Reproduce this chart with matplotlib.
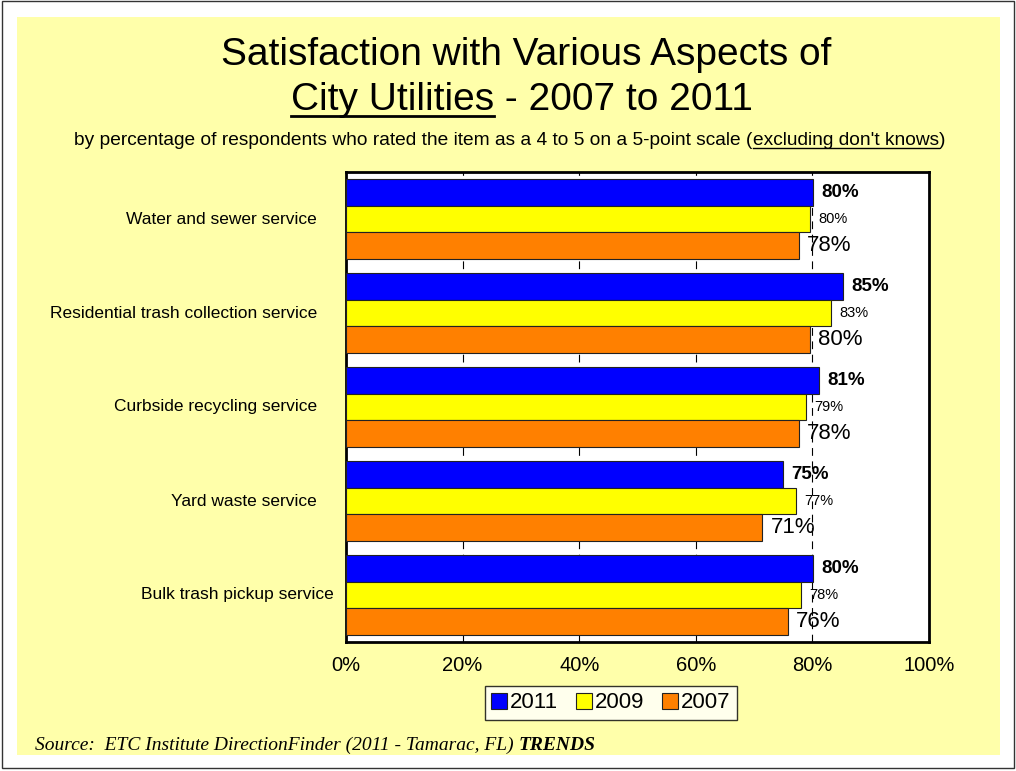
import numpy as np
import matplotlib
matplotlib.use('Agg')
import matplotlib.pyplot as plt
from matplotlib.patches import Rectangle

# data
categories = ['Water and sewer service',
              'Residential trash collection service',
              'Curbside recycling service',
              'Yard waste service',
              'Bulk trash pickup service']
years = ['2011', '2009', '2007']
vals_2011 = [80.1, 85.2, 81.1, 75.0, 80.1]
vals_2009 = [79.6, 83.2, 78.9, 77.2, 78.0]
vals_2007 = [77.7, 79.6, 77.7, 71.4, 75.8]
x_ticks = [0, 20, 40, 60, 80, 100]

colors = ['#0000FF', '#FFFF00', '#FF8000']
SANS = ['Liberation Sans', 'DejaVu Sans']
SERIF = ['Liberation Serif', 'DejaVu Serif']

W, H = 1016, 771
fig = plt.figure(figsize=(W / 100, H / 100), dpi=100)
fig.patch.set_facecolor('white')

# slide background and frame
fig.add_artist(Rectangle((17 / W, 1 - 755 / H), (1000 - 17) / W, (755 - 17) / H,
                         transform=fig.transFigure, facecolor='#FFFFAA',
                         edgecolor='none', zorder=0))
fig.add_artist(Rectangle((2 / W, 1 - 768 / H), (1014 - 2) / W, (768 - 1) / H,
                         transform=fig.transFigure, facecolor='none',
                         edgecolor='#333333', lw=1, zorder=0))

ax = fig.add_axes([346 / W, 1 - 642 / H, 583 / W, 470 / H])
ax.set_facecolor('white')

series = [vals_2011, vals_2009, vals_2007]
y = np.arange(len(categories))
h = 0.282
offsets = [-h, 0, h]
label_style = [dict(fontsize=13.5, fontweight='bold'),
               dict(fontsize=10.5),
               dict(fontsize=16)]

for s, vals in enumerate(series):
    bars = ax.barh(y + offsets[s], vals, height=h, color=colors[s],
                   edgecolor='#222222', linewidth=0.8, label=years[s], zorder=3)
    for b, v in zip(bars, vals):
        ax.annotate('%d%%' % round(v), (v, b.get_y() + b.get_height() / 2),
                    xytext=(6, 0), textcoords='offset points', va='center',
                    ha='left', family=SANS, zorder=5, **label_style[s])

ax.set_xlim(0, 100)
ax.set_ylim(len(categories) - 0.5, -0.5)
ax.set_xticks(x_ticks)
ax.set_xticklabels(['%d%%' % t for t in x_ticks], family=SANS, fontsize=14.5)
ax.tick_params(axis='x', length=0, pad=10)
ax.set_yticks([])
for t in x_ticks[1:-1]:
    ax.axvline(t, color='black', lw=0.8, ls=(0, (7, 5)), zorder=1)
for sp in ax.spines.values():
    sp.set_linewidth(2)
    sp.set_color('black')

for i, c in enumerate(categories):
    xo = -12 if i == len(categories) - 1 else -29
    ax.annotate(c, (0, i), xycoords=('axes fraction', 'data'),
                xytext=(xo, 0), textcoords='offset pixels',
                ha='right', va='center', family=SANS, fontsize=12.5)

leg = ax.legend(loc='center', bbox_to_anchor=(611 / W, 1 - 703 / H),
                bbox_transform=fig.transFigure, ncol=3, frameon=True,
                fancybox=False, prop={'family': SANS, 'size': 16},
                handlelength=0.7, handleheight=0.7, handletextpad=0.15,
                columnspacing=0.8, borderpad=0.3)
leg.get_frame().set_edgecolor('black')
leg.get_frame().set_linewidth(1)

# titles
renderer = fig.canvas.get_renderer()
fig.text(0.5 + 18 / W, 1 - 55 / H, 'Satisfaction with Various Aspects of',
         ha='center', va='center', family=SANS, fontsize=28)


def underlined_line(parts, yc, size, family, cx):
    # parts: list of (text, underline)
    full = ''.join(p for p, _ in parts)
    tmp = fig.text(0, 0, full, family=family, fontsize=size)
    total = tmp.get_window_extent(renderer).width
    tmp.remove()
    x = cx - total / 2
    for txt, ul in parts:
        t = fig.text(x / W, yc, txt, ha='left', va='baseline',
                     family=family, fontsize=size)
        wdt = t.get_window_extent(renderer).width
        if ul:
            yl = yc - size * 0.16 * 100 / 72 / H
            fig.add_artist(plt.Line2D([x / W, (x + wdt) / W], [yl, yl],
                                      transform=fig.transFigure, color='black',
                                      lw=max(1, size / 14)))
        x += wdt


underlined_line([('City Utilities', True), (' - 2007 to 2011', False)],
                1 - 110 / H, 28, SANS, 522)
underlined_line([('by percentage of respondents who rated the item as a 4 to 5 '
                  'on a 5-point scale (', False),
                 ("excluding don't knows", True), (')', False)],
                1 - 145 / H, 13.8, SANS, 510)

t1 = fig.text(35 / W, 1 - 745 / H,
              'Source:  ETC Institute DirectionFinder (2011 - Tamarac, FL) ',
              family=SERIF, style='italic', fontsize=14, va='center')
x1 = t1.get_window_extent(renderer).x1
fig.text(x1 / W, 1 - 745 / H, 'TRENDS', family=SERIF, style='italic',
         fontweight='bold', fontsize=14, va='center')

fig.savefig('out.png', dpi=100, facecolor=fig.get_facecolor())
